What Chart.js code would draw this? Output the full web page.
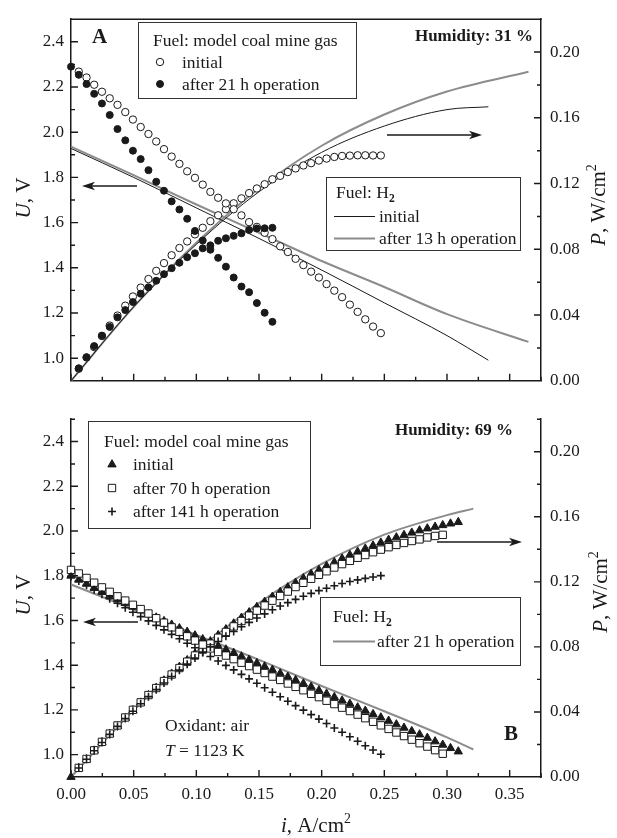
<!DOCTYPE html>
<html>
<head>
<meta charset="utf-8">
<script src="https://cdn.jsdelivr.net/npm/chart.js@4.4.1/dist/chart.umd.min.js"></script>
<style>
  body { margin: 0; background: #fff; }
  #wrap { position: relative; width: 617px; height: 838px; }
  canvas { position: absolute; left: 0; }
</style>
</head>
<body>
<div id="wrap">
  <canvas id="chartA" width="617" height="400" style="top:0"></canvas>
  <canvas id="chartB" width="617" height="438" style="top:400px"></canvas>
</div>
<script>
// current density steps of the measured points, A/cm2
const current = [0, 0.0062, 0.0124, 0.0185, 0.0247, 0.0309, 0.0371, 0.0433, 0.0494, 0.0556,
  0.0618, 0.0680, 0.0742, 0.0803, 0.0865, 0.0927, 0.0989, 0.1051, 0.1112, 0.1174,
  0.1236, 0.1298, 0.1360, 0.1421, 0.1483, 0.1545, 0.1607, 0.1669, 0.1730, 0.1792,
  0.1854, 0.1916, 0.1978, 0.2039, 0.2101, 0.2163, 0.2225, 0.2287, 0.2348, 0.2410,
  0.2472, 0.2534, 0.2596, 0.2657, 0.2719, 0.2781, 0.2843, 0.2905, 0.2966, 0.3028, 0.3090];

const iTicks = [0, 0.05, 0.10, 0.15, 0.20, 0.25, 0.30, 0.35];
const uTicks = [1.0, 1.2, 1.4, 1.6, 1.8, 2.0, 2.2, 2.4];
const pTicks = [0, 0.04, 0.08, 0.12, 0.16, 0.20];

// ---- panel A, humidity 31 % ----
// coal mine gas, initial (open circles)
const aOpenU = [null, 2.268, 2.242, 2.210, 2.179, 2.150, 2.121, 2.089, 2.056, 2.023, 1.992,
  1.959, 1.925, 1.892, 1.860, 1.827, 1.798, 1.768, 1.736, 1.710, 1.685,
  1.659, 1.632, 1.602, 1.581, 1.555, 1.527, 1.495, 1.470, 1.440, 1.412,
  1.383, 1.357, 1.328, 1.299, 1.270, 1.237, 1.205, 1.172, 1.140, 1.111];
const aOpenP = [null, 0.0073, 0.0142, 0.0205, 0.0272, 0.0336, 0.0397, 0.0457, 0.0513, 0.0567, 0.0619,
  0.0669, 0.0716, 0.0764, 0.0808, 0.0848, 0.0891, 0.0931, 0.0971, 0.1007, 0.1044,
  0.1080, 0.1110, 0.1142, 0.1170, 0.1196, 0.1226, 0.1247, 0.1270, 0.1292, 0.1310,
  0.1324, 0.1340, 0.1352, 0.1362, 0.1368, 0.1370, 0.1372, 0.1372, 0.1371, 0.1371];
// coal mine gas, after 21 h (filled circles)
const aFilledU = [2.290, 2.254, 2.213, 2.170, 2.127, 2.076, 2.014, 1.964, 1.918, 1.881,
  1.832, 1.781, 1.741, 1.694, 1.658, 1.617, 1.563, 1.521, 1.480, 1.444,
  1.405, 1.357, 1.317, 1.292, 1.244, 1.201, 1.161];
const aFilledP = [null, 0.0076, 0.0143, 0.0211, 0.0275, 0.0328, 0.0386, 0.0430, 0.0479, 0.0530,
  0.0569, 0.0609, 0.0649, 0.0685, 0.0718, 0.0752, 0.0776, 0.0806, 0.0824, 0.0852,
  0.0867, 0.0882, 0.0897, 0.0918, 0.0927, 0.0928, 0.0931];
// H2, initial (black) and after 13 h (gray)
const aH2InitI = [0, 0.05, 0.10, 0.15, 0.20, 0.25, 0.30, 0.333];
const aH2InitU = [1.928, 1.800, 1.665, 1.530, 1.390, 1.245, 1.100, 0.991];
const aH2InitP = [0, 0.045, 0.083, 0.115, 0.139, 0.155, 0.165, 0.1667];
const aH2AgedI = [0, 0.05, 0.10, 0.15, 0.20, 0.25, 0.30, 0.365];
const aH2AgedU = [1.936, 1.810, 1.680, 1.555, 1.430, 1.315, 1.195, 1.072];
const aH2AgedP = [0, 0.045, 0.084, 0.117, 0.143, 0.162, 0.176, 0.188];

// ---- panel B, humidity 69 % ----
// coal mine gas, initial (filled triangles)
const bTriU = [1.800, 1.782, 1.764, 1.746, 1.729, 1.712, 1.695, 1.678, 1.661, 1.645,
  1.629, 1.613, 1.597, 1.581, 1.565, 1.549, 1.533, 1.516, 1.500, 1.485,
  1.470, 1.455, 1.439, 1.424, 1.409, 1.394, 1.379, 1.363, 1.348, 1.333,
  1.318, 1.303, 1.287, 1.272, 1.257, 1.242, 1.227, 1.211, 1.196, 1.181,
  1.166, 1.151, 1.135, 1.120, 1.105, 1.090, 1.075, 1.059, 1.044, 1.029, 1.014];
const bTriP = [0, 0.0055, 0.0109, 0.0162, 0.0214, 0.0265, 0.0314, 0.0363, 0.0410, 0.0457,
  0.0503, 0.0548, 0.0593, 0.0635, 0.0677, 0.0718, 0.0758, 0.0797, 0.0834, 0.0872,
  0.0908, 0.0944, 0.0979, 0.1012, 0.1045, 0.1077, 0.1108, 0.1137, 0.1166, 0.1194,
  0.1222, 0.1248, 0.1273, 0.1297, 0.1320, 0.1343, 0.1365, 0.1385, 0.1404, 0.1423,
  0.1441, 0.1458, 0.1473, 0.1488, 0.1502, 0.1516, 0.1528, 0.1538, 0.1548, 0.1558, 0.1567];
// after 70 h (open squares)
const bSqU = [1.826, 1.810, 1.790, 1.769, 1.748, 1.728, 1.708, 1.689, 1.670, 1.651,
  1.631, 1.610, 1.590, 1.569, 1.549, 1.529, 1.510, 1.492, 1.475, 1.459,
  1.443, 1.427, 1.411, 1.396, 1.380, 1.365, 1.349, 1.334, 1.318, 1.303,
  1.288, 1.272, 1.257, 1.241, 1.226, 1.210, 1.195, 1.179, 1.163, 1.147,
  1.131, 1.115, 1.099, 1.083, 1.067, 1.051, 1.036, 1.020, 1.004];
const bSqP = [null, 0.0056, 0.0111, 0.0164, 0.0216, 0.0267, 0.0317, 0.0366, 0.0413, 0.0459,
  0.0504, 0.0547, 0.0590, 0.0630, 0.0670, 0.0709, 0.0747, 0.0784, 0.0820, 0.0856,
  0.0892, 0.0926, 0.0959, 0.0992, 0.1023, 0.1054, 0.1084, 0.1113, 0.1140, 0.1168,
  0.1194, 0.1219, 0.1243, 0.1265, 0.1288, 0.1309, 0.1329, 0.1348, 0.1365, 0.1382,
  0.1398, 0.1413, 0.1427, 0.1439, 0.1451, 0.1461, 0.1473, 0.1482, 0.1489];
// after 141 h (crosses)
const bPlusU = [1.797, 1.777, 1.757, 1.737, 1.717, 1.697, 1.677, 1.657, 1.637, 1.617,
  1.598, 1.578, 1.558, 1.538, 1.518, 1.498, 1.478, 1.458, 1.439, 1.419,
  1.399, 1.379, 1.359, 1.339, 1.319, 1.299, 1.279, 1.259, 1.239, 1.219,
  1.199, 1.179, 1.159, 1.139, 1.119, 1.100, 1.080, 1.060, 1.040, 1.021, 1.002];
const bPlusP = [null, 0.0055, 0.0109, 0.0161, 0.0212, 0.0262, 0.0311, 0.0359, 0.0404, 0.0450,
  0.0494, 0.0537, 0.0578, 0.0618, 0.0657, 0.0694, 0.0731, 0.0766, 0.0800, 0.0833,
  0.0865, 0.0895, 0.0924, 0.0951, 0.0978, 0.1003, 0.1028, 0.1051, 0.1072, 0.1092,
  0.1111, 0.1129, 0.1146, 0.1161, 0.1176, 0.1190, 0.1202, 0.1212, 0.1221, 0.1230, 0.1238];
// H2 after 21 h (gray)
const bH2I = [0, 0.05, 0.10, 0.15, 0.20, 0.25, 0.30, 0.321];
const bH2U = [1.761, 1.649, 1.535, 1.424, 1.307, 1.194, 1.077, 1.023];
const bH2P = [0, 0.041, 0.077, 0.107, 0.131, 0.149, 0.161, 0.165];

const INK = "#1a1a1a";
const GRAY = "#8c8c8c";
const SERIF = '"Liberation Serif", "Times New Roman", serif';

function pts(xs, ys) {
  return xs.map((x, k) => ({ x, y: ys[k] })).filter(p => p.y != null);
}

function markers(ys, axis, style) {
  return Object.assign({
    data: pts(current, ys), yAxisID: axis, showLine: false,
    borderColor: INK, pointBorderColor: INK, pointBorderWidth: 1,
    order: 1, clip: 8
  }, style);
}

function curve(xs, ys, axis, color, width) {
  return {
    data: pts(xs, ys), yAxisID: axis, showLine: true, pointRadius: 0,
    borderColor: color, borderWidth: width, cubicInterpolationMode: "monotone",
    order: 5, clip: 4
  };
}

const openCircle = { pointStyle: "circle", pointRadius: 3.7, pointBackgroundColor: "#fff" };
const dotCircle = { pointStyle: "circle", pointRadius: 3.5, pointBackgroundColor: INK };
const triangle = { pointStyle: "triangle", pointRadius: 4.8, pointBackgroundColor: INK };
const square = { pointStyle: "rect", pointRadius: 5.2, pointBackgroundColor: "#fff" };
const cross = { pointStyle: "cross", pointRadius: 4, pointBorderWidth: 1.6 };

// ---------- drawing helpers ----------
function fontOf(style, size) {
  return (style.includes("i") ? "italic " : "") + (style.includes("b") ? "bold " : "") + size + "px " + SERIF;
}

// parts: [text, style]; style letters i=italic b=bold, or "sup"/"sub"
function rich(ctx, parts, x, cy, size, align, bold) {
  const items = parts.map(([t, s]) => {
    const small = s === "sup" || s === "sub";
    const sz = small ? size * 0.66 : size;
    const f = fontOf((s || "") + (bold ? "b" : ""), sz);
    ctx.font = f;
    return { t, s, f, w: ctx.measureText(t).width };
  });
  const total = items.reduce((a, b) => a + b.w, 0);
  let px = align === "center" ? x - total / 2 : align === "right" ? x - total : x;
  const base = cy + size * 0.33;
  ctx.textBaseline = "alphabetic";
  ctx.textAlign = "left";
  items.forEach(it => {
    ctx.font = it.f;
    let y = base;
    if (it.s === "sup") y = base - size * 0.42;
    if (it.s === "sub") y = base + size * 0.22;
    ctx.fillText(it.t, px, y);
    px += it.w;
  });
}

function rotated(ctx, parts, cx, cy, size) {
  ctx.save();
  ctx.translate(cx, cy);
  ctx.rotate(-Math.PI / 2);
  rich(ctx, parts, 0, 0, size, "center");
  ctx.restore();
}

function arrow(ctx, x1, y, x2) {
  const dir = Math.sign(x2 - x1);
  ctx.save();
  ctx.strokeStyle = INK; ctx.fillStyle = INK; ctx.lineWidth = 1.4;
  ctx.beginPath(); ctx.moveTo(x1, y); ctx.lineTo(x2 - dir * 8, y); ctx.stroke();
  ctx.beginPath();
  ctx.moveTo(x2, y);
  ctx.lineTo(x2 - dir * 13, y - 4.2);
  ctx.lineTo(x2 - dir * 9.5, y);
  ctx.lineTo(x2 - dir * 13, y + 4.2);
  ctx.closePath(); ctx.fill();
  ctx.restore();
}

function marker(ctx, kind, x, y) {
  ctx.save();
  ctx.strokeStyle = INK; ctx.lineWidth = 1;
  ctx.beginPath();
  if (kind === "open" || kind === "dot") {
    ctx.arc(x, y, kind === "open" ? 3.7 : 3.5, 0, Math.PI * 2);
    ctx.fillStyle = kind === "open" ? "#fff" : INK; ctx.fill(); ctx.stroke();
  } else if (kind === "tri") {
    const r = 4.8;
    ctx.moveTo(x, y - r); ctx.lineTo(x + r * 0.866, y + r / 2); ctx.lineTo(x - r * 0.866, y + r / 2);
    ctx.closePath(); ctx.fillStyle = INK; ctx.fill(); ctx.stroke();
  } else if (kind === "sq") {
    const s = 5.2 * Math.SQRT1_2;
    ctx.rect(x - s, y - s, 2 * s, 2 * s); ctx.fillStyle = "#fff"; ctx.fill(); ctx.stroke();
  } else if (kind === "plus") {
    ctx.lineWidth = 1.6;
    ctx.moveTo(x - 4, y); ctx.lineTo(x + 4, y); ctx.moveTo(x, y - 4); ctx.lineTo(x, y + 4); ctx.stroke();
  }
  ctx.restore();
}

function box(ctx, x, y, w, h) {
  ctx.save();
  ctx.strokeStyle = "#333"; ctx.lineWidth = 1;
  ctx.strokeRect(Math.round(x) + 0.5, Math.round(y) + 0.5, w, h);
  ctx.restore();
}

// inward ticks (major + minor) on all three axes
function frameTicks(chart, fullTop) {
  const { ctx, chartArea: a, scales } = chart;
  ctx.save();
  ctx.strokeStyle = INK; ctx.lineWidth = 1.4;
  ctx.beginPath();
  for (let k = 0; k * 0.025 <= 0.375; k++) {
    const px = scales.x.getPixelForValue(k * 0.025);
    ctx.moveTo(px, a.bottom); ctx.lineTo(px, a.bottom - (k % 2 ? 4 : 7));
  }
  for (let k = 10; k <= 24; k++) {
    const py = scales.yU.getPixelForValue(k / 10);
    ctx.moveTo(a.left, py); ctx.lineTo(a.left + (k % 2 ? 4 : 7), py);
  }
  for (let k = 1; k <= 10; k++) {
    const py = scales.yP.getPixelForValue(k * 0.02);
    ctx.moveTo(a.right, py); ctx.lineTo(a.right - (k % 2 ? 4 : 7), py);
  }
  if (fullTop) {
    ctx.moveTo(a.left - 0.7, a.top); ctx.lineTo(a.right + 0.7, a.top);
  } else {
    ctx.moveTo(a.left, a.top); ctx.lineTo(a.left + 4, a.top);
    ctx.moveTo(a.right, a.top); ctx.lineTo(a.right - 4, a.top);
  }
  ctx.stroke();
  ctx.restore();
}

function decorA(chart) {
  const ctx = chart.ctx;
  frameTicks(chart, true);
  ctx.save();
  ctx.fillStyle = INK;
  rotated(ctx, [["U", "i"], [", V", ""]], 23, 198, 21);
  rotated(ctx, [["P", "i"], [", W/cm", ""], ["2", "sup"]], 598, 205, 21);
  rich(ctx, [["A", ""]], 92, 36, 21, "left", true);
  rich(ctx, [["Humidity: 31 %", ""]], 533, 35, 17, "right", true);

  box(ctx, 138, 22, 218, 76);
  ctx.fillStyle = INK;
  rich(ctx, [["Fuel: model coal mine gas", ""]], 153, 40, 17.5, "left");
  marker(ctx, "open", 160, 62);
  rich(ctx, [["initial", ""]], 182, 62, 17.5, "left");
  marker(ctx, "dot", 160, 84);
  rich(ctx, [["after 21 h operation", ""]], 182, 84, 17.5, "left");

  box(ctx, 326, 177, 194, 73);
  ctx.fillStyle = INK;
  rich(ctx, [["Fuel: H", ""], ["2", "sub"]], 336, 192, 17.5, "left");
  ctx.save();
  ctx.lineWidth = 1; ctx.strokeStyle = INK;
  ctx.beginPath(); ctx.moveTo(334, 216.5); ctx.lineTo(375, 216.5); ctx.stroke();
  ctx.lineWidth = 2; ctx.strokeStyle = GRAY;
  ctx.beginPath(); ctx.moveTo(334, 238.5); ctx.lineTo(375, 238.5); ctx.stroke();
  ctx.restore();
  rich(ctx, [["initial", ""]], 379, 216, 17.5, "left");
  rich(ctx, [["after 13 h operation", ""]], 379, 238, 17.5, "left");

  arrow(ctx, 137, 186, 82);
  arrow(ctx, 387, 135, 482);
  ctx.restore();
}

function decorB(chart) {
  const ctx = chart.ctx;
  frameTicks(chart, false);
  ctx.save();
  ctx.fillStyle = INK;
  rotated(ctx, [["U", "i"], [", V", ""]], 23, 195, 21);
  rotated(ctx, [["P", "i"], [", W/cm", ""], ["2", "sup"]], 600, 192, 21);
  rich(ctx, [["i", "i"], [", A/cm", ""], ["2", "sup"]], 316, 425, 21, "center");
  rich(ctx, [["B", ""]], 504, 333, 21, "left", true);
  rich(ctx, [["Humidity: 69 %", ""]], 513, 29, 17, "right", true);
  rich(ctx, [["Oxidant: air", ""]], 165, 325, 17.5, "left");
  rich(ctx, [["T", "i"], [" = 1123 K", ""]], 165, 350, 17.5, "left");

  box(ctx, 88, 21, 222, 107);
  ctx.fillStyle = INK;
  rich(ctx, [["Fuel: model coal mine gas", ""]], 104, 41.5, 17.5, "left");
  marker(ctx, "tri", 112, 64.5);
  rich(ctx, [["initial", ""]], 133, 64, 17.5, "left");
  marker(ctx, "sq", 112, 88);
  rich(ctx, [["after 70 h operation", ""]], 133, 88, 17.5, "left");
  marker(ctx, "plus", 112, 111.5);
  rich(ctx, [["after 141 h operation", ""]], 133, 111.5, 17.5, "left");

  box(ctx, 320, 197, 200, 68);
  ctx.fillStyle = INK;
  rich(ctx, [["Fuel: H", ""], ["2", "sub"]], 333, 216, 17.5, "left");
  ctx.save();
  ctx.lineWidth = 2; ctx.strokeStyle = GRAY;
  ctx.beginPath(); ctx.moveTo(333, 241.5); ctx.lineTo(375, 241.5); ctx.stroke();
  ctx.restore();
  rich(ctx, [["after 21 h operation", ""]], 377, 241.5, 17.5, "left");

  arrow(ctx, 138, 222, 83);
  arrow(ctx, 437, 142, 522);
  ctx.restore();
}

function scales(showX, xHeight) {
  const tickFont = { family: SERIF, size: 17 };
  const fixTicks = vals => s => { s.ticks = vals.map(v => ({ value: v })); };
  return {
    x: {
      type: "linear", position: "bottom", min: 0, max: 0.375,
      grid: { display: false, drawTicks: false },
      border: { display: true, color: INK, width: 1.5 },
      ticks: { display: showX, font: tickFont, color: INK, padding: 7, maxRotation: 0,
        callback: v => Number(v).toFixed(2) },
      afterBuildTicks: fixTicks(iTicks),
      afterFit: s => { s.height = xHeight; }
    },
    yU: {
      type: "linear", position: "left", min: 0.9, max: 2.5,
      grid: { display: false, drawTicks: false },
      border: { display: true, color: INK, width: 1.5 },
      ticks: { font: tickFont, color: INK, padding: 7, callback: v => Number(v).toFixed(1) },
      afterBuildTicks: fixTicks(uTicks),
      afterFit: s => { s.width = 71; }
    },
    yP: {
      type: "linear", position: "right", min: 0, max: 0.22,
      grid: { display: false, drawTicks: false },
      border: { display: true, color: INK, width: 1.5 },
      ticks: { font: tickFont, color: INK, padding: 9, callback: v => Number(v).toFixed(2) },
      afterBuildTicks: fixTicks(pTicks),
      afterFit: s => { s.width = 76; }
    }
  };
}

function baseOptions(showX, xHeight, top) {
  return {
    responsive: false, animation: false, events: [],
    layout: { padding: { top, left: 0, right: 0, bottom: 0 } },
    plugins: { legend: { display: false }, tooltip: { enabled: false } },
    scales: scales(showX, xHeight)
  };
}

new Chart(document.getElementById("chartA"), {
  type: "scatter",
  data: {
    datasets: [
      curve(aH2InitI, aH2InitU, "yU", INK, 1),
      curve(aH2InitI, aH2InitP, "yP", INK, 1),
      curve(aH2AgedI, aH2AgedU, "yU", GRAY, 2),
      curve(aH2AgedI, aH2AgedP, "yP", GRAY, 2),
      markers(aFilledU, "yU", dotCircle),
      markers(aFilledP, "yP", dotCircle),
      markers(aOpenU, "yU", openCircle),
      markers(aOpenP, "yP", openCircle)
    ]
  },
  options: baseOptions(false, 18, 13),
  plugins: [{ id: "decorA", afterDraw: decorA }]
});

new Chart(document.getElementById("chartB"), {
  type: "scatter",
  data: {
    datasets: [
      curve(bH2I, bH2U, "yU", GRAY, 2),
      curve(bH2I, bH2P, "yP", GRAY, 2),
      markers(bPlusU, "yU", cross),
      markers(bPlusP, "yP", cross),
      markers(bSqU, "yU", square),
      markers(bSqP, "yP", square),
      markers(bTriU, "yU", triangle),
      markers(bTriP, "yP", triangle)
    ]
  },
  options: baseOptions(true, 61, 8),
  plugins: [{ id: "decorB", afterDraw: decorB }]
});
</script>
</body>
</html>
